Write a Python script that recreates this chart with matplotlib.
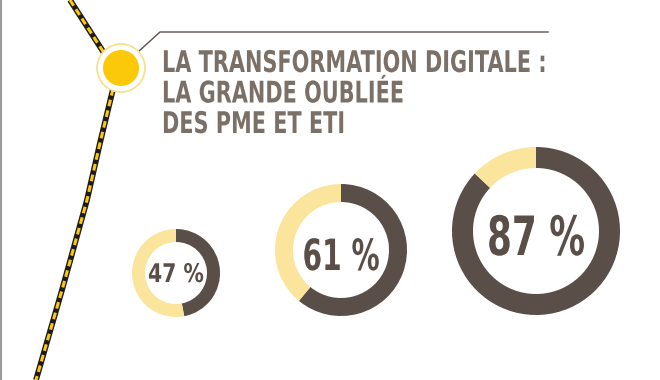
import matplotlib
matplotlib.use("Agg")
import matplotlib.pyplot as plt
from matplotlib.patches import Circle
from matplotlib.patheffects import AbstractPathEffect
from matplotlib.transforms import Affine2D

W, H = 660, 380
values = [47, 61, 87]
labels = ["47 %", "61 %", "87 %"]
title_lines = ["LA TRANSFORMATION DIGITALE :", "LA GRANDE OUBLIÉE", "DES PME ET ETI"]

DARK = "#5a4e49"
LIGHT = "#fbe59c"
TITLE_C = "#7b7068"
YELLOW = "#fcc80a"

centers = [(176, 273), (341, 250), (536, 231)]
radii = [44, 66, 84]
widths = [13, 18, 21]
fsizes = [18.5, 31, 39]
label_base = [282, 270, 255]
label_w = [56, 77, 98]


class Stretch(AbstractPathEffect):
    """Horizontally condense rendered text around an anchor x (display px)."""
    def __init__(self, x0, sx=1.0):
        super().__init__()
        self.x0 = x0
        self.sx = sx

    def draw_path(self, renderer, gc, tpath, affine, rgbFace=None):
        t = affine + Affine2D().translate(-self.x0, 0).scale(self.sx, 1).translate(self.x0, 0)
        renderer.draw_path(gc, tpath, t, rgbFace)


fig = plt.figure(figsize=(W / 100, H / 100), dpi=100)
ax = fig.add_axes([0, 0, 1, 1])
ax.set_xlim(0, W)
ax.set_ylim(0, H)


def Y(y):
    return H - y


fam = ["DejaVu Sans"]
stretch_items = []

for v, lab, (cx, cy), r, w, fs, yb, tw in zip(values, labels, centers, radii, widths,
                                             fsizes, label_base, label_w):
    ax.pie([v, 100 - v], colors=[DARK, LIGHT], startangle=90, counterclock=False,
           center=(cx, Y(cy)), radius=r, wedgeprops=dict(width=w, linewidth=0),
           frame=True)
    pe = Stretch(cx)
    t = ax.text(cx, Y(yb), lab, ha="center", va="baseline", fontsize=fs,
                color=DARK, fontweight="bold", family=fam, path_effects=[pe])
    stretch_items.append((t, pe, tw))

# rail line
rx_top = [70, 104]
ry_top = [0, 53]
rx_bot = [113, 100, 87, 62, 36]
ry_bot = [89, 143, 200, 290, 380]
for xs, ys in [(rx_top, ry_top), (rx_bot, ry_bot)]:
    yy = [Y(v) for v in ys]
    ax.plot(xs, yy, color="#1e1a17", lw=4.2, solid_capstyle="butt", zorder=3)
    ax.plot(xs, yy, color=YELLOW, lw=2.2, dashes=(2.2, 1.4), zorder=4)

# node circle
ax.add_patch(Circle((121, Y(68)), 24, facecolor="white", edgecolor="#f6e08a", lw=1.2, zorder=5))
ax.add_patch(Circle((121, Y(68)), 18, facecolor=YELLOW, edgecolor="none", zorder=6))

# callout line
ax.plot([138, 160, 548], [Y(52), Y(32), Y(32)], color="#5a524e", lw=1.0, zorder=2)

title_base = [72, 102.5, 133]
title_left, title_right = 162, 547
title_mid = (title_left + title_right) / 2
title_items = []
for i, line in enumerate(title_lines):
    if i == 0:
        pe = Stretch(title_mid)
        t = ax.text(title_mid, Y(title_base[i]), line, ha="center", va="baseline",
                    fontsize=21.5, color=TITLE_C, fontweight="bold", family=fam,
                    path_effects=[pe])
        stretch_items.append((t, pe, title_right - title_left))
        first_pe = pe
    else:
        pe = Stretch(title_left)
        t = ax.text(title_left, Y(title_base[i]), line, ha="left", va="baseline",
                    fontsize=21.5, color=TITLE_C, fontweight="bold", family=fam,
                    path_effects=[pe])
        title_items.append(pe)

# left border
ax.plot([0.8, 0.8], [0, H], color="#9a9a9a", lw=1.5)

ax.set_xlim(0, W)
ax.set_ylim(0, H)
ax.set_aspect("auto")
ax.axis("off")

fig.canvas.draw()
r = fig.canvas.get_renderer()
for t, pe, tw in stretch_items:
    pe.sx = tw / t.get_window_extent(r).width
for pe in title_items:
    pe.sx = first_pe.sx

fig.savefig("out.png", dpi=100, facecolor="white")
